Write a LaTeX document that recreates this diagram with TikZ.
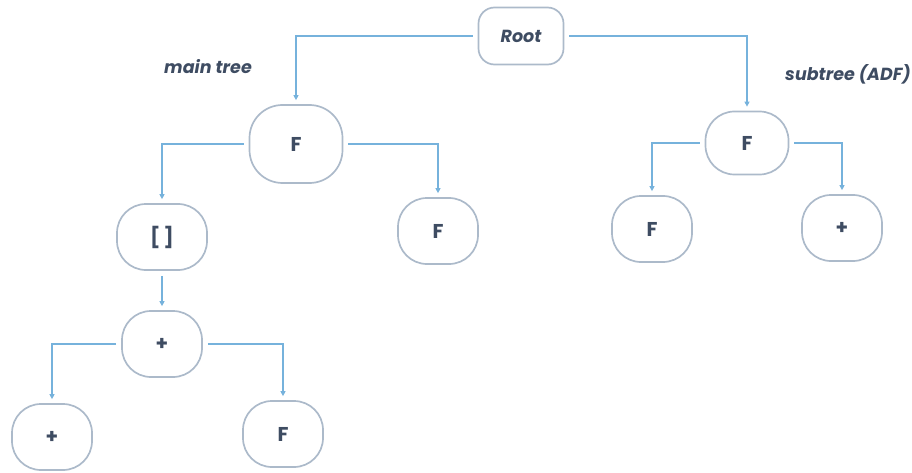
\documentclass[tikz,border=0pt]{standalone}
\usepackage{fontspec}
\setmainfont{Poppins}
\usepackage{tikz}
\usetikzlibrary{arrows.meta}

\definecolor{ink}{RGB}{62,76,98}
\definecolor{rim}{RGB}{172,186,202}
\definecolor{wire}{RGB}{118,178,220}

\begin{document}
\begin{tikzpicture}[x=1pt, y=-1pt,
        tnode/.style={draw=rim, line width=1.7pt, rounded corners=29pt,
          minimum width=80pt, minimum height=66pt, inner sep=2pt,
          text=ink, font=\fontsize{20}{21}\selectfont\bfseries},
        big/.style={tnode, rounded corners=33pt, minimum width=93pt, minimum height=78pt},
        rootnode/.style={tnode, rounded corners=16pt, minimum width=85pt,
          minimum height=57pt, font=\fontsize{17.5}{18}\selectfont\bfseries\itshape},
        tag/.style={text=ink, font=\fontsize{17.5}{18}\selectfont\bfseries\itshape},
        conn/.style={draw=wire, line width=1.1pt, shorten <=5pt, shorten >=4pt,
          -{Triangle[length=5pt, width=5pt]}}]
      \useasboundingbox (0,0) rectangle (912,473);
      % nodes
      \node[rootnode] (root) at (521,36) {Root};
      \node[tag] (maintag) at (208,67) {main tree};
      \node[tag] (subtag)  at (848,74) {subtree (ADF)};
      \node[big]   (f1)   at (296,144) {F};
      \node[tnode] (fr)   at (438,231) {F};
      \node[tnode, minimum width=90pt] (brk) at (162,237) {[\,]};
      \node[tnode] (plus) at (162,344) {+};
      \node[tnode] (pl)   at (52,437)  {+};
      \node[tnode] (fb)   at (283,434) {F};
      \node[tnode, minimum width=83pt, minimum height=63pt] (adf) at (747,143) {F};
      \node[tnode] (adfl) at (652,229) {F};
      \node[tnode] (adfr) at (842,228) {+};
      % elbow connectors
      \foreach \a/\b/\s in {root/f1/west, root/adf/east, f1/brk/west, f1/fr/east,
          plus/pl/west, plus/fb/east, adf/adfl/west, adf/adfr/east}
        \draw[conn] (\a.\s) -| (\b.north);
      \draw[conn] (brk.south) -- (plus.north);
\end{tikzpicture}
\end{document}
